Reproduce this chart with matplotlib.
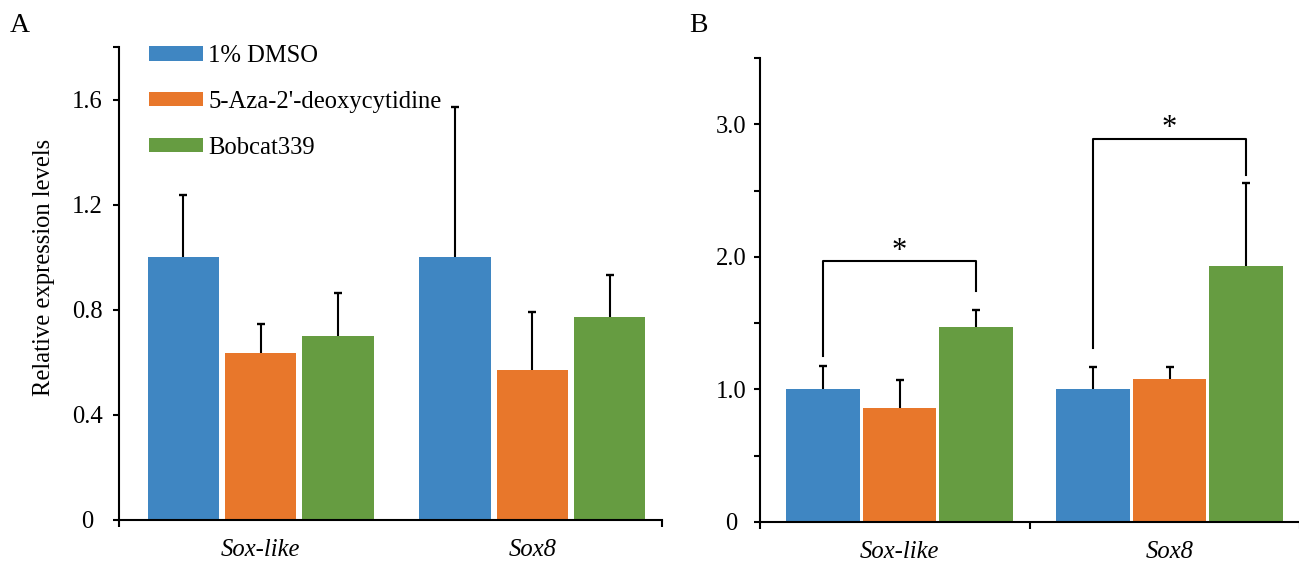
import matplotlib
matplotlib.use("Agg")
import matplotlib.pyplot as plt
import numpy as np

plt.rcParams["font.family"] = ["Liberation Serif", "DejaVu Serif"]

genes = ["Sox-like", "Sox8"]
treatments = ["1% DMSO", "5-Aza-2'-deoxycytidine", "Bobcat339"]
colors = ["#3F86C2", "#E8772B", "#669C41"]

# panel A
a_means = [[1.0, 1.0], [0.636, 0.571], [0.70, 0.771]]
a_errs = [[0.236, 0.57], [0.111, 0.219], [0.163, 0.162]]

# panel B
b_means = [[1.0, 1.0], [0.86, 1.08], [1.47, 1.93]]
b_errs = [[0.18, 0.17], [0.21, 0.09], [0.13, 0.63]]

# significance brackets in B: (left bottom, top, right bottom), star y
b_brackets = [(1.25, 1.97, 1.74), (1.31, 2.89, 2.62)]
b_star_y = [1.93, 2.86]

FS = 17.7
W, H = 1299, 562
fig = plt.figure(figsize=(W / 100, H / 100), dpi=100)


def px_axes(left, right, top, bottom):
    return fig.add_axes([left / W, 1 - bottom / H, (right - left) / W, (bottom - top) / H])


def draw_bars(ax, means, errs, width, off, shift):
    x = np.arange(len(genes))
    conts = []
    for i, (m, e) in enumerate(zip(means, errs)):
        xi = x + (i - 1) * off + shift
        c = ax.bar(xi, m, width, color=colors[i], label=treatments[i], zorder=2)
        conts.append(c)
        eb = ax.errorbar(xi, m, yerr=[np.zeros(len(m)), e], fmt="none", ecolor="black",
                         elinewidth=1.5, capsize=2.8, capthick=1.7, zorder=3)
        eb[1][0].set_visible(False)
    return conts


def style(ax, ylim, yticks, ylabels, minor, xticks_major, pad):
    ax.set_xlim(-0.5, 1.5)
    ax.set_ylim(0, ylim)
    for s in ["top", "right"]:
        ax.spines[s].set_visible(False)
    for s in ["left", "bottom"]:
        ax.spines[s].set_linewidth(1.5)
    ax.set_yticks(yticks)
    ax.set_yticklabels(ylabels, ha="center")
    ax.set_yticks(minor, minor=True)
    ax.tick_params(axis="y", which="both", direction="out", length=4, width=1.5,
                   labelsize=FS, pad=pad)
    ax.set_xticks(xticks_major)
    ax.set_xticklabels([])
    ax.tick_params(axis="x", which="major", direction="out", length=5, width=1.5)


# ---- A ----
axA = px_axes(119, 662, 47, 520)
shiftA = 0.022
bars = draw_bars(axA, a_means, a_errs, 0.263, 0.285, shiftA)
style(axA, 1.8, [0, 0.4, 0.8, 1.2, 1.6], ["0", "0.4", "0.8", "1.2", "1.6"], [1.8],
      [-0.5, 1.5], 19)
axA.set_xticks(np.arange(2) + shiftA, minor=True)
axA.set_xticklabels(genes, minor=True, style="italic", fontsize=FS)
axA.tick_params(axis="x", which="minor", length=0, pad=14)
fig.text(44 / W, 1 - 267 / H, "Relative expression levels", rotation=90,
         ha="center", va="center", fontsize=FS)
axA.legend(handles=bars, loc="upper left", bbox_to_anchor=(149 / W, 1 - 45 / H),
           bbox_transform=fig.transFigure, frameon=False, fontsize=FS,
           handlelength=2.2, handleheight=0.53, handletextpad=0.2,
           labelspacing=0.97, borderpad=0, borderaxespad=0)
fig.text(10 / W, 1 - 13 / H, "A", fontsize=20, va="top", ha="left")

# ---- B ----
axB = px_axes(760, 1300, 58, 522)
shiftB = 0.017
offB = 0.284
draw_bars(axB, b_means, b_errs, 0.273, offB, shiftB)
style(axB, 3.5, [0, 1, 2, 3], ["0", "1.0", "2.0", "3.0"], [0.5, 1.5, 2.5, 3.5],
      [-0.5, 0.5, 1.5], 16.5)
axB.set_xticks(np.arange(2) + shiftB, minor=True)
axB.set_xticklabels(genes, minor=True, style="italic", fontsize=FS)
axB.tick_params(axis="x", which="minor", length=0, pad=14)
for g, (lb, top, rb) in enumerate(b_brackets):
    xl = g - offB + shiftB
    xr = g + offB + shiftB
    axB.plot([xl, xl, xr, xr], [lb, top, top, rb], color="black", lw=1.5, zorder=4)
    axB.text((xl + xr) / 2, b_star_y[g], "*", ha="center", va="bottom", fontsize=22)
fig.text(689 / W, 1 - 13 / H, "B", fontsize=20, va="top", ha="left")

fig.savefig("out.png", dpi=100)
